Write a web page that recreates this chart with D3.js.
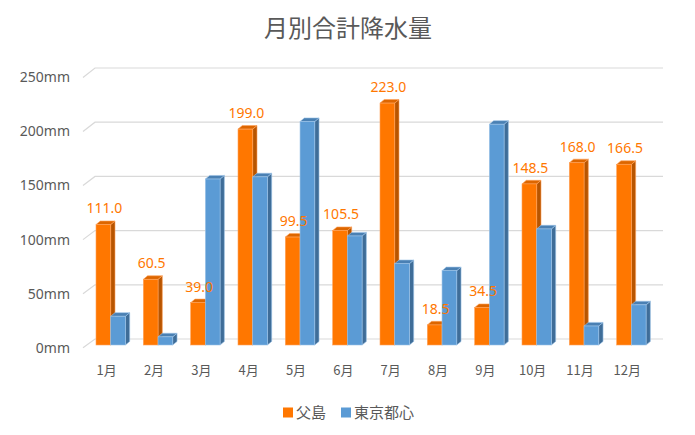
<!DOCTYPE html>
<html><head><meta charset="utf-8">
<script src="https://cdn.jsdelivr.net/npm/d3@7"></script>
<style>body{margin:0;background:#fff}svg{display:block}</style>
</head><body>
<svg id="c" width="695" height="435"></svg>
<script>
const months = ["1月","2月","3月","4月","5月","6月","7月","8月","9月","10月","11月","12月"];
const chichijima = [111.0,60.5,39.0,199.0,99.5,105.5,223.0,18.5,34.5,148.5,168.0,166.5];
const tokyo = [26.5,7.5,153,155,206,100.5,75,68.5,203.5,107,17.5,37];
const yTicks = [0,50,100,150,200,250];
const seriesNames = ["父島","東京都心"];

const svg = d3.select("#c");
const font = "'Noto Sans CJK JP','Noto Sans',sans-serif";
const txt = "#595959";

// scales
const xFront = d3.scaleBand().domain(months).range([83, 651]);
const xBack = d3.scaleBand().domain(months).range([95, 663]);
const yBack = d3.scaleLinear().domain([0,250]).range([339, 68]);
const yFront = d3.scaleLinear().domain([0,250]).range([347.7, 77.5]);
const yBar = d3.scaleLinear().domain([0,250]).range([345, 73.8]);

// title
svg.append("text").attr("x",348).attr("y",37).attr("text-anchor","middle")
  .attr("font-family",font).attr("font-size",24).attr("fill",txt).text("月別合計降水量");

// gridlines
const g = svg.append("g");
yTicks.forEach(t=>{
  g.append("path")
   .attr("d",`M${xFront.range()[0]},${yFront(t)}L${xBack.range()[0]},${yBack(t)}L${xBack.range()[1]},${yBack(t)}`)
   .attr("fill","none").attr("stroke","#d9d9d9").attr("stroke-width",1.2);
  svg.append("text").attr("x",70).attr("y",yFront(t)).attr("dy","0.35em")
   .attr("text-anchor","end").attr("font-family","'Noto Sans',sans-serif")
   .attr("font-size",14).attr("fill",txt).text(t+"mm");
});

// x labels
months.forEach(m=>{
  svg.append("text").attr("x",xFront(m)+xFront.bandwidth()/2).attr("y",370).attr("dy","0.35em")
   .attr("text-anchor","middle").attr("font-family",font).attr("font-size",13)
   .attr("fill",txt).text(m);
});

const bw = 14.7, dx = 4.3, dy = 3.6;
function bar(sel, x, v, c){
  const y0 = yBar(0), y1 = yBar(v);
  sel.append("path").attr("d",`M${x+bw},${y0}L${x+bw+dx},${y0-dy}L${x+bw+dx},${y1-dy}L${x+bw},${y1}Z`)
    .attr("fill",c.side).attr("stroke",c.edge).attr("stroke-width",0.6);
  sel.append("path").attr("d",`M${x},${y1}L${x+dx},${y1-dy}L${x+bw+dx},${y1-dy}L${x+bw},${y1}Z`)
    .attr("fill",c.top).attr("stroke",c.edge).attr("stroke-width",0.6);
  sel.append("rect").attr("x",x).attr("y",y1).attr("width",bw).attr("height",y0-y1)
    .attr("fill",c.front).attr("stroke",c.edge).attr("stroke-width",0.6);
}
const orange = {front:"#ff7700", side:"#b85500", top:"#dd6600", edge:"#ffa25a"};
const blue = {front:"#5b9bd5", side:"#3f6d98", top:"#4a80b3", edge:"#9cc3e8"};

const bars = svg.append("g");
months.forEach((m,i)=>{
  bar(bars, xFront(m)+13, chichijima[i], orange);
  bar(bars, xFront(m)+13+bw, tokyo[i], blue);
});
months.forEach((m,i)=>{
  svg.append("text").attr("x",xFront(m)+13+bw/2+1).attr("y",yBar(chichijima[i])-16).attr("dy","0.35em")
   .attr("text-anchor","middle").attr("font-family","'Noto Sans',sans-serif")
   .attr("font-size",14).attr("fill","#ff7700").text(chichijima[i].toFixed(1));
});

// legend
const leg = [{n:seriesNames[0],c:"#ff7700",x:283},{n:seriesNames[1],c:"#5b9bd5",x:341}];
leg.forEach(l=>{
  svg.append("rect").attr("x",l.x).attr("y",407.5).attr("width",10).attr("height",10).attr("fill",l.c);
  svg.append("text").attr("x",l.x+13).attr("y",412.5).attr("dy","0.35em")
   .attr("font-family",font).attr("font-size",15).attr("fill",txt).text(l.n);
});
</script>
</body></html>
